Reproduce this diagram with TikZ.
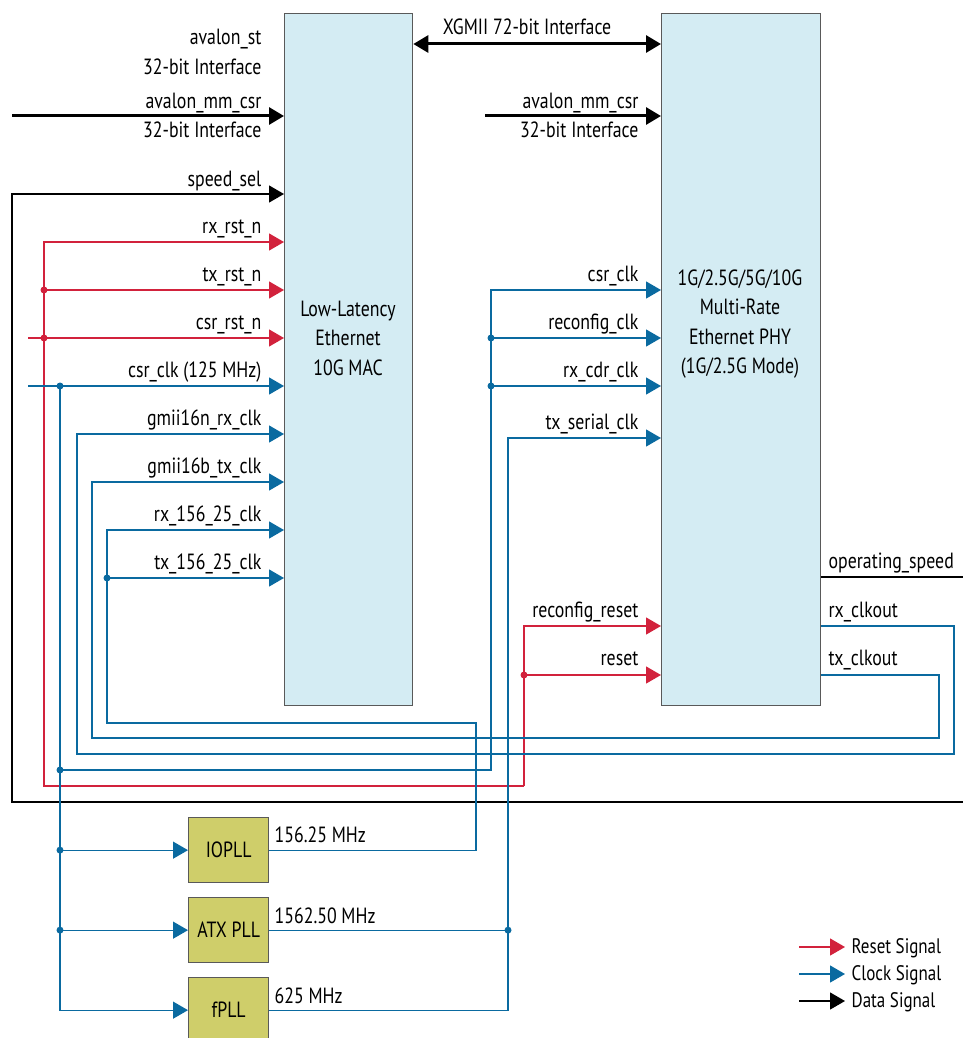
\documentclass[tikz,border=0pt]{standalone}
\usepackage{fontspec}
\setmainfont{PT Sans}[FakeStretch=0.81]
\usetikzlibrary{arrows.meta}

\definecolor{rstred}{RGB}{210,34,60}
\definecolor{clkblue}{RGB}{10,106,160}
\definecolor{boxblue}{RGB}{212,236,243}
\definecolor{pllgreen}{RGB}{207,206,106}

\begin{document}
\begin{tikzpicture}[x=1pt,y=-1pt,line width=1.3pt,>={Triangle[length=15pt,width=17pt]},
  font=\fontsize{22}{29.5}\selectfont,
  blk/.style={draw=black!65,line width=1.3pt,fill=boxblue,anchor=north west,inner sep=0pt,minimum height=692pt},
  pll/.style={draw=black!65,line width=1.3pt,fill=pllgreen,anchor=north west,inner sep=0pt,minimum width=80pt,minimum height=65pt},
  rst/.style={rstred,line width=1.3pt},
  clk/.style={clkblue,line width=1.3pt},
  dat/.style={black,line width=1.3pt},
  lbl/.style={anchor=base east,inner sep=0pt},
  rlbl/.style={anchor=base west,inner sep=0pt},
  dot/.style={circle,fill,inner sep=0pt,minimum size=7pt}]
  \useasboundingbox (0,0) rectangle (963,1038);
  % blocks
  \node[blk,minimum width=128pt] (mac) at (284,13) {};
  \node[blk,minimum width=159pt] (phy) at (661,13) {};
  \node[align=center] (mactxt) at (348,338) {Low-Latency\\Ethernet\\10G MAC};
  \node[align=center] (phytxt) at (740,324) {1G/2.5G/5G/10G\\Multi-Rate\\Ethernet PHY\\(1G/2.5G Mode)};
  \node[pll] (iopll) at (188,817) {IOPLL};
  \node[pll] (atxpll) at (188,897) {ATX PLL};
  \node[pll] (fpll) at (188,977) {fPLL};
  % data signals
  \coordinate (xgmii) at (527,44); \draw[dat,line width=3pt,<->] (mac.east |- xgmii) -- (phy.west |- xgmii);
  \node[anchor=base,inner sep=0pt] (xglbl) at (527,35) {XGMII 72-bit Interface};
  \node[lbl] (stlbl) at (262,45) {avalon\_st}; \node[lbl] (stlbl2) at (262,75) {32-bit Interface};
  \coordinate (mmmac) at (12,116); \draw[dat,line width=3pt,->] (mmmac) -- (mac.west |- mmmac);
  \node[lbl] (mmlbl) at (262,109) {avalon\_mm\_csr}; \node[lbl] (mmlbl2) at (262,138) {32-bit Interface};
  \coordinate (mmphy) at (485,116); \draw[dat,line width=3pt,->] (mmphy) -- (phy.west |- mmphy);
  \node[lbl] (mmplbl) at (639,109) {avalon\_mm\_csr}; \node[lbl] (mmplbl2) at (639,138) {32-bit Interface};
  \coordinate (spdin) at (963,802); \coordinate (spd) at (12,194);
  \draw[dat,->] (spdin) -| (spd) -- (mac.west |- spd); \node[lbl] (spdlbl) at (262,186) {speed\_sel};
  \coordinate (opspd) at (963,577); \draw[dat] (phy.east |- opspd) -- (opspd);
  \node[rlbl] (oplbl) at (828,568) {operating\_speed};
  % reset signals
  \coordinate (rstrow) at (524,786); \coordinate (rxrst) at (44,242); \coordinate (txrst) at (44,290); \coordinate (csrrst) at (28,338);
  \draw[rst,->] (rstrow) -| (rxrst) -- (mac.west |- rxrst); \node[lbl] (rxrstlbl) at (262,233) {rx\_rst\_n};
  \draw[rst,->] (txrst) -- (mac.west |- txrst); \node[dot,rstred] (txrstdot) at (txrst) {}; \node[lbl] (txrstlbl) at (262,281) {tx\_rst\_n};
  \draw[rst,->] (csrrst) -- (mac.west |- csrrst); \node[dot,rstred] (csrrstdot) at (rxrst |- csrrst) {}; \node[lbl] (csrrstlbl) at (262,329) {csr\_rst\_n};
  \coordinate (rcfgrst) at (524,626); \coordinate (phyrst) at (524,675);
  \draw[rst,->] (rstrow) -- (rcfgrst) -- (phy.west |- rcfgrst); \node[lbl] (rcfgrstlbl) at (639,617) {reconfig\_reset};
  \draw[rst,->] (phyrst) -- (phy.west |- phyrst); \node[dot,rstred] (phyrstdot) at (phyrst) {}; \node[lbl] (phyrstlbl) at (639,665) {reset};
  % clock signals
  \coordinate (csrclk) at (28,386); \coordinate (clktrunk) at (60,386); \coordinate (clkrow) at (60,770);
  \draw[clk,->] (csrclk) -- (mac.west |- csrclk); \node[dot,clkblue] (csrclkdot) at (clktrunk) {}; \node[lbl] (csrclklbl) at (262,377) {csr\_clk (125 MHz)};
  \draw[clk,->] (clktrunk) |- (fpll.west);
  \draw[clk,->] (clktrunk |- iopll.west) -- (iopll.west); \node[dot,clkblue] (iodot) at (clktrunk |- iopll.west) {};
  \draw[clk,->] (clktrunk |- atxpll.west) -- (atxpll.west); \node[dot,clkblue] (atxdot) at (clktrunk |- atxpll.west) {};
  \coordinate (phycsr) at (491,290); \coordinate (rcfgclk) at (491,338); \coordinate (cdrclk) at (491,386);
  \draw[clk,->] (clkrow) -| (phycsr) -- (phy.west |- phycsr); \node[dot,clkblue] (rowdot) at (clkrow) {}; \node[lbl] (phycsrlbl) at (639,281) {csr\_clk};
  \draw[clk,->] (rcfgclk) -- (phy.west |- rcfgclk); \node[dot,clkblue] (rcfgdot) at (rcfgclk) {}; \node[lbl] (rcfglbl) at (639,329) {reconfig\_clk};
  \draw[clk,->] (cdrclk) -- (phy.west |- cdrclk); \node[dot,clkblue] (cdrdot) at (cdrclk) {}; \node[lbl] (cdrlbl) at (639,377) {rx\_cdr\_clk};
  \coordinate (rxco) at (954,626); \coordinate (rxcorow) at (954,754); \coordinate (gnrx) at (77,434);
  \draw[clk,->] (phy.east |- rxco) -- (rxco) -- (rxcorow) -| (gnrx) -- (mac.west |- gnrx);
  \node[rlbl] (rxcolbl) at (828,617) {rx\_clkout}; \node[lbl] (gnrxlbl) at (262,425) {gmii16n\_rx\_clk};
  \coordinate (txco) at (939,675); \coordinate (txcorow) at (939,738); \coordinate (gbtx) at (92,482);
  \draw[clk,->] (phy.east |- txco) -- (txco) -- (txcorow) -| (gbtx) -- (mac.west |- gbtx);
  \node[rlbl] (txcolbl) at (828,665) {tx\_clkout}; \node[lbl] (gbtxlbl) at (262,473) {gmii16b\_tx\_clk};
  \coordinate (iorow) at (476,723); \coordinate (rx156) at (107,530); \coordinate (tx156) at (107,578);
  \draw[clk,->] (iopll.east) -| (iorow) -| (rx156) -- (mac.west |- rx156); \node[lbl] (rx156lbl) at (262,521) {rx\_156\_25\_clk};
  \draw[clk,->] (tx156) -- (mac.west |- tx156); \node[dot,clkblue] (tx156dot) at (tx156) {}; \node[lbl] (tx156lbl) at (262,569) {tx\_156\_25\_clk};
  \coordinate (txser) at (508,438);
  \draw[clk,->] (fpll.east) -| (txser) -- (phy.west |- txser); \node[lbl] (txserlbl) at (639,429) {tx\_serial\_clk};
  \draw[clk] (atxpll.east) -- (txser |- atxpll.east); \node[dot,clkblue] (atxrdot) at (txser |- atxpll.east) {};
  \node[rlbl] (iofreq) at (274,842) {156.25 MHz};
  \node[rlbl] (atxfreq) at (274,923) {1562.50 MHz};
  \node[rlbl] (ffreq) at (274,1003) {625 MHz};
  % legend
  \coordinate (lgrst) at (799,947); \coordinate (lgrstend) at (845,947); \draw[rst,->] (lgrst) -- (lgrstend);
  \node[rlbl,font=\fontsize{21}{24}\selectfont] (lgrsttxt) at (851,953) {Reset Signal};
  \coordinate (lgclk) at (799,974); \coordinate (lgclkend) at (845,974); \draw[clk,->] (lgclk) -- (lgclkend);
  \node[rlbl,font=\fontsize{21}{24}\selectfont] (lgclktxt) at (851,980) {Clock Signal};
  \coordinate (lgdat) at (799,1001); \coordinate (lgdatend) at (845,1001); \draw[dat,->] (lgdat) -- (lgdatend);
  \node[rlbl,font=\fontsize{21}{24}\selectfont] (lgdattxt) at (851,1007) {Data Signal};
\end{tikzpicture}
\end{document}
